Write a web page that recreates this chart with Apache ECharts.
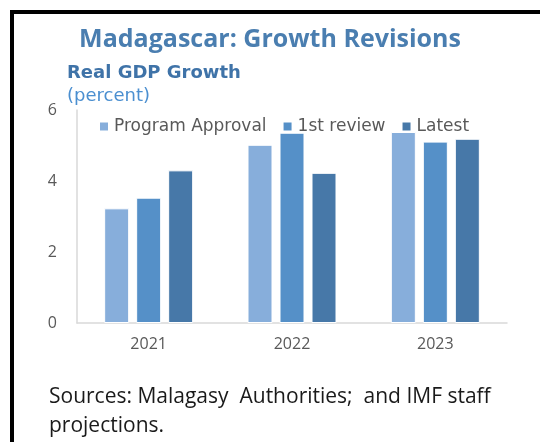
<!DOCTYPE html>
<html>
<head>
<meta charset="utf-8">
<script src="https://cdn.jsdelivr.net/npm/echarts@6/dist/echarts.min.js"></script>
<style>
  html, body { margin: 0; padding: 0; background: #fff; }
  #chart { width: 540px; height: 442px; }
</style>
</head>
<body>
<div id="chart"></div>
<script>
// data
var years = ["2021", "2022", "2023"];
var programApproval = [3.23, 5.02, 5.38];
var firstReview = [3.53, 5.36, 5.11];
var latest = [4.30, 4.23, 5.19];
var seriesNames = ["Program Approval", "1st review", "Latest"];
var colors = ["#87AEDB", "#5590C8", "#4778A8"];

var font = "Open Sans";
var wide = "DejaVu Sans";
var chart = echarts.init(document.getElementById("chart"));

function bar(name, data, i) {
  return {
    name: name,
    type: "bar",
    data: data,
    barWidth: 25,
    barGap: "28%",
    itemStyle: { color: colors[i], borderColor: "#ffffff", borderWidth: 1 },
  };
}

var option = {
  animation: false,
  textStyle: { fontFamily: font },
  title: {
    text: "Madagascar: Growth Revisions",
    left: "center",
    top: 22,
    textStyle: { fontSize: 25, fontWeight: "bold", color: "#4A7EB0", fontFamily: font },
  },
  graphic: [
    { // frame, only top and left edges show
      type: "rect",
      shape: { x: 12, y: 12, width: 700, height: 600 },
      style: { fill: "none", stroke: "#000", lineWidth: 4 },
      silent: true,
    },
    {
      type: "text", left: 67, top: 64,
      style: { text: "Real GDP Growth", font: "bold 18px '" + wide + "'", fill: "#3F73A8" },
    },
    {
      type: "text", left: 67, top: 87,
      style: { text: "(percent)", font: "18px '" + wide + "'", fill: "#4B8FD0" },
    },
    {
      type: "text", left: 49, top: 383,
      style: {
        text: "Sources: Malagasy  Authorities;  and IMF staff\nprojections.",
        font: "21px '" + font + "'", fill: "#1a1a1a", lineHeight: 29,
      },
    },
  ],
  legend: {
    data: seriesNames,
    top: 113,
    left: 93,
    itemWidth: 10,
    itemHeight: 10,
    itemGap: 15,
    icon: "rect",
    textStyle: { fontSize: 17, color: "#595959", fontFamily: wide },
  },
  grid: { left: 77, right: 33, top: 110, bottom: 119 },
  xAxis: {
    type: "category",
    data: years,
    axisLine: { lineStyle: { color: "#D9D9D9", width: 1.5 } },
    axisTick: { show: false },
    axisLabel: { fontSize: 16, color: "#595959", margin: 13 },
  },
  yAxis: {
    type: "value",
    min: 0,
    max: 6,
    interval: 2,
    axisLine: { show: true, lineStyle: { color: "#D9D9D9", width: 1.5 } },
    axisTick: { show: false },
    splitLine: { show: false },
    axisLabel: { fontSize: 16, color: "#595959", margin: 20 },
  },
  series: [
    bar(seriesNames[0], programApproval, 0),
    bar(seriesNames[1], firstReview, 1),
    bar(seriesNames[2], latest, 2),
  ],
};

chart.setOption(option);
window.addEventListener("resize", function () {
  chart.resize();
});
</script>
</body>
</html>
